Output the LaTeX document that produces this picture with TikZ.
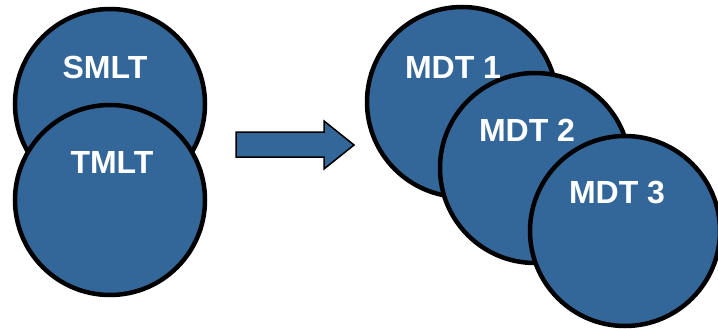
\documentclass[tikz,border=0pt]{standalone}
\usepackage{fontspec}
\setmainfont{Liberation Sans}
\usepackage{tikz}

\definecolor{discblue}{RGB}{52,103,153}

\begin{document}
\begin{tikzpicture}[x=1pt, y=-1pt,
    disc node/.style={circle, fill=discblue, draw=black, line width=4.5pt, minimum size=2*\R pt, inner sep=0pt},
    name node/.style={text=white, font=\bfseries\fontsize{32}{38}\selectfont, inner sep=0pt},
    ]
  \def\R{95}

  \useasboundingbox (0,0) rectangle (718,329);

  \node[disc node] (smlt) at (110,104) {};
  \node[disc node] (tmlt) at (110,200) {};

  \node[disc node] (mdt1) at (462,102) {};
  \node[disc node] (mdt2) at (535,168) {};
  \node[disc node] (mdt3) at (625,231) {};

  \path (smlt) ++(-5,-37) node[name node] (smlt text) {SMLT};
  \path (tmlt) ++(2,-38) node[name node] (tmlt text) {TMLT};
  \path (mdt1) ++(-9,-35) node[name node] (mdt1 text) {MDT 1};
  \path (mdt2) ++(-8,-38) node[name node] (mdt2 text) {MDT 2};
  \path (mdt3) ++(-8,-38) node[name node] (mdt3 text) {MDT 3};

  % block arrow
  \draw[fill=discblue, line width=1.5pt, line join=miter]
    (236,132) -- (324,132) -- (324,121) -- (354,145) -- (324,169) -- (324,157) -- (236,157) -- cycle;
\end{tikzpicture}
\end{document}
